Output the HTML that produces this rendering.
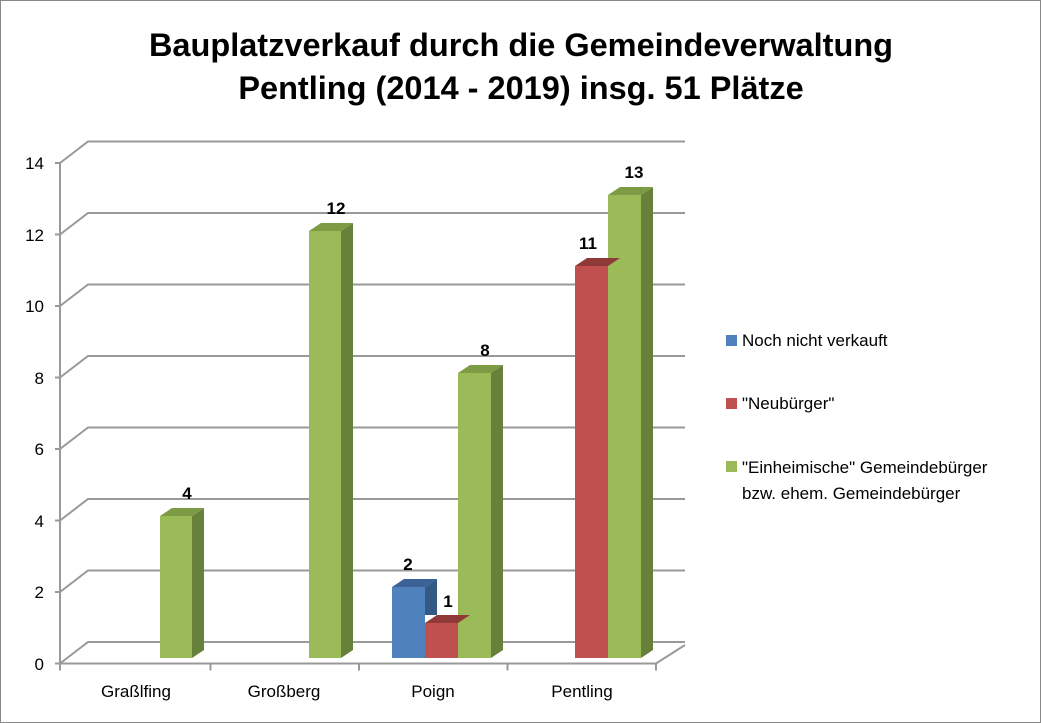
<!DOCTYPE html><html><head><style>body{margin:0;background:#fff}svg{display:block}text{font-family:"Liberation Sans",sans-serif}</style></head><body>
<svg width="1041" height="723" viewBox="0 0 1041 723" xmlns="http://www.w3.org/2000/svg">
<rect x="0.5" y="0.5" width="1040" height="722" fill="#fff" stroke="#888"/>
<g font-weight="bold" font-size="32.5" text-anchor="middle" fill="#000">
<text x="521" y="56">Bauplatzverkauf durch die Gemeindeverwaltung</text>
<text x="521" y="99">Pentling (2014 - 2019) insg. 51 Plätze</text></g>
<g stroke="#999" stroke-width="2" fill="none">
<path d="M60 663.5 L88 642 L685 642 M60 592 L88 570.5 L685 570.5 M60 520.5 L88 499 L685 499 M60 449 L88 427.5 L685 427.5 M60 377.5 L88 356 L685 356 M60 306 L88 284.5 L685 284.5 M60 234.5 L88 213 L685 213 M60 163 L88 141.5 L685 141.5"/>
<path d="M60 163 V663.5 M55 163h5M55 234.5h5M55 306h5M55 377.5h5M55 449h5M55 520.5h5M55 592h5M55 663.5h5"/>
<path d="M60 663.5 H656 L685 645 M60 663.5v7M210.5 663.5v7M359 663.5v7M507.5 663.5v7M656 663.5v7"/>
</g>
<g font-size="17" text-anchor="end"><text x="44" y="169">14</text><text x="44" y="241">12</text><text x="44" y="312">10</text><text x="44" y="384">8</text><text x="44" y="455">6</text><text x="44" y="527">4</text><text x="44" y="598">2</text><text x="44" y="670">0</text></g>
<g font-size="17" text-anchor="middle"><text x="136" y="697">Graßlfing</text><text x="284" y="697">Großberg</text><text x="433" y="697">Poign</text><text x="582" y="697">Pentling</text></g>
<g>
<g><rect x="160" y="516" width="32" height="142" fill="#9bbb59"/><path d="M192 516 l12 -8 v142 l-12 8z" fill="#67803a"/><path d="M160 516 l12 -8 h32 l-12 8z" fill="#7d9a45"/></g>
<g><rect x="309" y="231" width="32" height="427" fill="#9bbb59"/><path d="M341 231 l12 -8 v427 l-12 8z" fill="#67803a"/><path d="M309 231 l12 -8 h32 l-12 8z" fill="#7d9a45"/></g>
<g><rect x="458" y="373" width="33" height="285" fill="#9bbb59"/><path d="M491 373 l12 -8 v285 l-12 8z" fill="#67803a"/><path d="M458 373 l12 -8 h33 l-12 8z" fill="#7d9a45"/></g>
<g><rect x="608" y="195" width="33" height="463" fill="#9bbb59"/><path d="M641 195 l12 -8 v463 l-12 8z" fill="#67803a"/><path d="M608 195 l12 -8 h33 l-12 8z" fill="#7d9a45"/></g>
<g><rect x="425" y="623" width="33" height="35" fill="#c0504d"/><path d="M425 623 l12 -8 h33 l-12 8z" fill="#8f3a38"/></g>
<g><rect x="575" y="266" width="33" height="392" fill="#c0504d"/><path d="M575 266 l12 -8 h33 l-12 8z" fill="#8f3a38"/></g>
<g><rect x="392" y="587" width="33" height="71" fill="#4f81bd"/><path d="M425 587 l12 -8 v36 h-12z" fill="#335a85"/><path d="M392 587 l12 -8 h33 l-12 8z" fill="#3a6296"/></g>
</g>
<g font-size="17" font-weight="bold" text-anchor="middle"><text x="187" y="499">4</text><text x="336" y="214">12</text><text x="485" y="356">8</text><text x="634" y="178">13</text><text x="408" y="570">2</text><text x="448" y="607">1</text><text x="588" y="249">11</text></g>
<g font-size="17"><rect x="726" y="335" width="11" height="11" fill="#4f81bd"/><text x="742" y="346">Noch nicht verkauft</text>
<rect x="726" y="398" width="11" height="11" fill="#c0504d"/><text x="742" y="409">"Neubürger"</text>
<rect x="726" y="461" width="11" height="11" fill="#9bbb59"/><text x="742" y="473">"Einheimische" Gemeindebürger</text><text x="742" y="499">bzw. ehem. Gemeindebürger</text></g>
</svg></body></html>
